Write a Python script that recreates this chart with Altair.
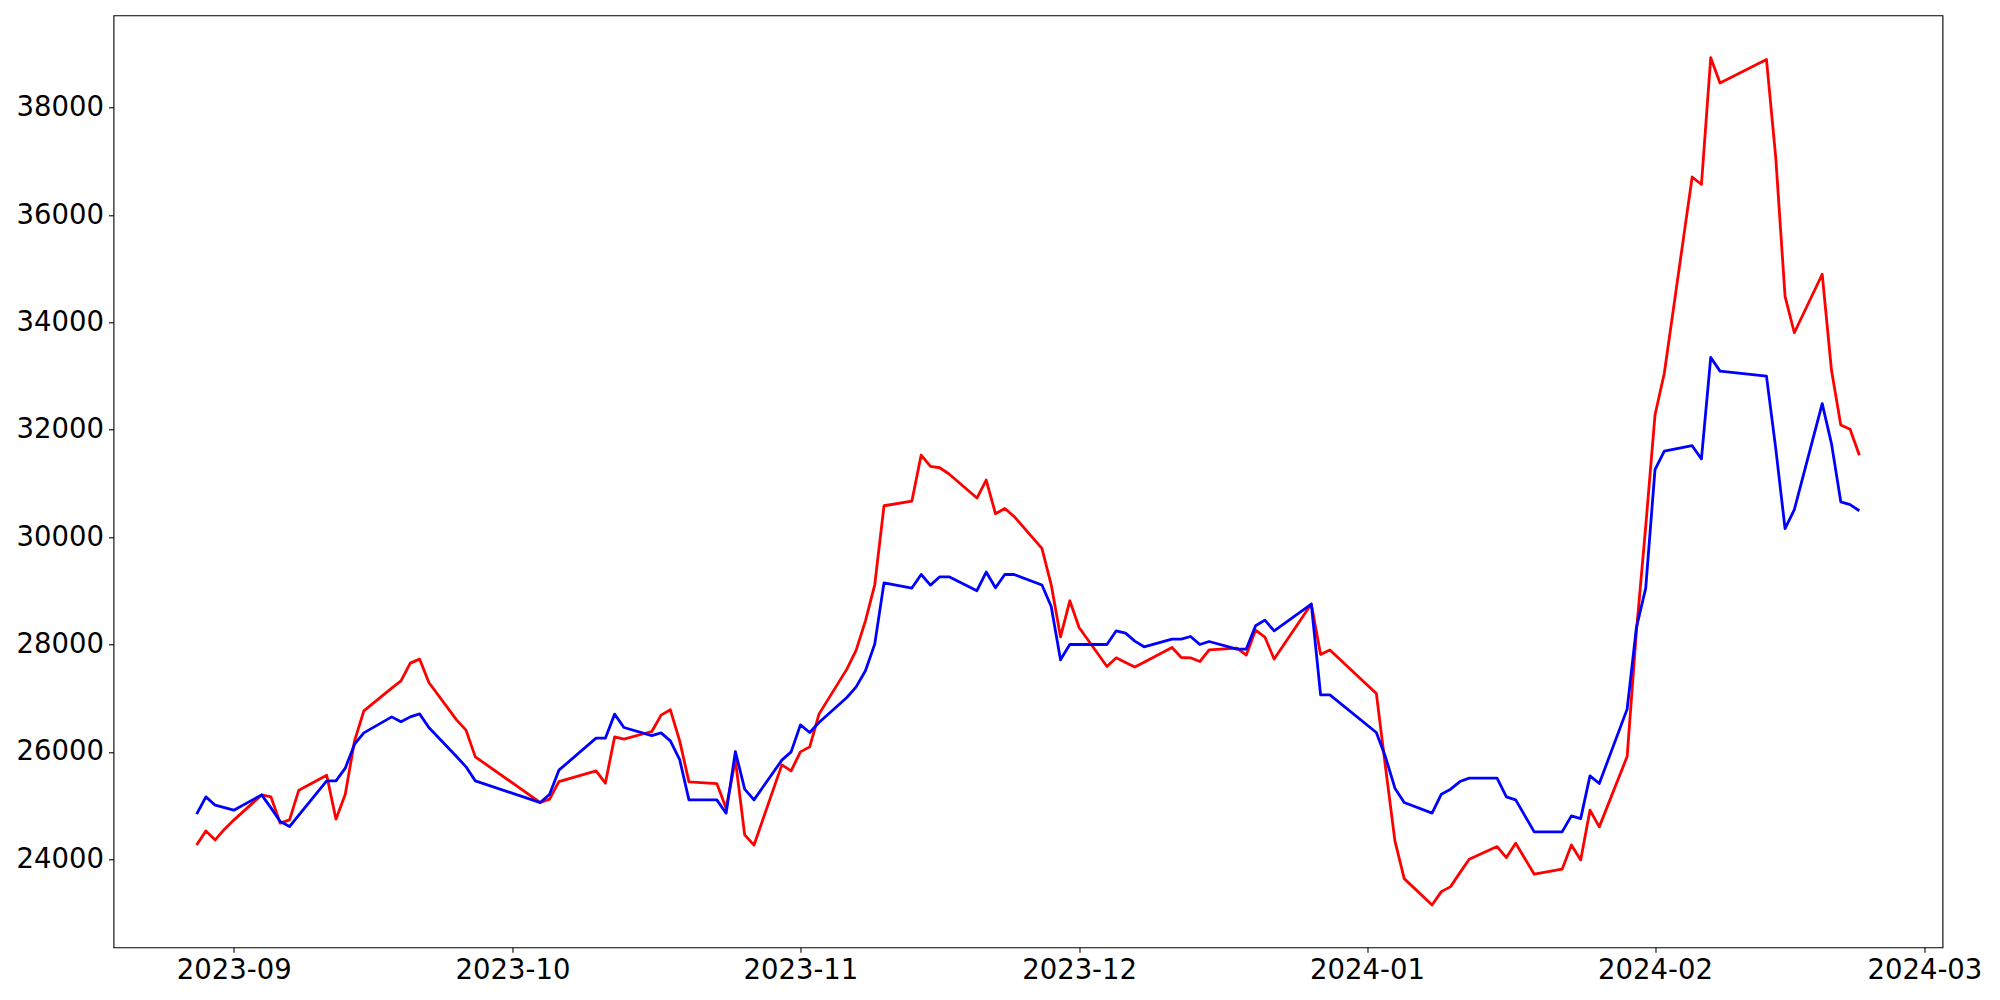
import altair as alt
import pandas as pd

dates = [
    "2023-08-28", "2023-08-29", "2023-08-30", "2023-08-31", "2023-09-01",
    "2023-09-04", "2023-09-05", "2023-09-06", "2023-09-07", "2023-09-08",
    "2023-09-11", "2023-09-12", "2023-09-13", "2023-09-14", "2023-09-15",
    "2023-09-18", "2023-09-19", "2023-09-20", "2023-09-21", "2023-09-22",
    "2023-09-25", "2023-09-26", "2023-09-27",
    "2023-10-04", "2023-10-05", "2023-10-06",
    "2023-10-10", "2023-10-11", "2023-10-12", "2023-10-13",
    "2023-10-16", "2023-10-17", "2023-10-18", "2023-10-19", "2023-10-20",
    "2023-10-23", "2023-10-24", "2023-10-25", "2023-10-26", "2023-10-27",
    "2023-10-30", "2023-10-31", "2023-11-01", "2023-11-02", "2023-11-03",
    "2023-11-06", "2023-11-07", "2023-11-08", "2023-11-09", "2023-11-10",
    "2023-11-13", "2023-11-14", "2023-11-15", "2023-11-16", "2023-11-17",
    "2023-11-20", "2023-11-21", "2023-11-22", "2023-11-23", "2023-11-24",
    "2023-11-27", "2023-11-28", "2023-11-29", "2023-11-30", "2023-12-01",
    "2023-12-04", "2023-12-05", "2023-12-06", "2023-12-07", "2023-12-08",
    "2023-12-11", "2023-12-12", "2023-12-13", "2023-12-14", "2023-12-15",
    "2023-12-18", "2023-12-19", "2023-12-20", "2023-12-21", "2023-12-22",
    "2023-12-26", "2023-12-27", "2023-12-28",
    "2024-01-02", "2024-01-03", "2024-01-04", "2024-01-05",
    "2024-01-08", "2024-01-09", "2024-01-10", "2024-01-11", "2024-01-12",
    "2024-01-15", "2024-01-16", "2024-01-17", "2024-01-18", "2024-01-19",
    "2024-01-22", "2024-01-23", "2024-01-24", "2024-01-25", "2024-01-26",
    "2024-01-29", "2024-01-30", "2024-01-31", "2024-02-01", "2024-02-02",
    "2024-02-05", "2024-02-06", "2024-02-07", "2024-02-08",
    "2024-02-13", "2024-02-14", "2024-02-15", "2024-02-16",
    "2024-02-19", "2024-02-20", "2024-02-21", "2024-02-22", "2024-02-23",
]

red = [
    24268, 24529, 24361, 24561, 24730,
    25200, 25163, 24673, 24734, 25288,
    25567, 24747, 25213, 26206, 26765,
    27188, 27324, 27654, 27729, 27293,
    26592, 26406, 25908,
    25057, 25120, 25448,
    25647, 25418, 26281, 26238,
    26380, 26685, 26784, 26206, 25442,
    25411, 24950, 25850, 24455, 24263,
    25759, 25647, 26001, 26094, 26704,
    27542, 27896, 28442, 29113, 30585,
    30673, 31530, 31318, 31293, 31176,
    30729, 31064, 30436, 30535, 30386,
    29790, 29113, 28144, 28815, 28318,
    27591, 27753, 27665, 27580, 27669,
    27945, 27759, 27753, 27684, 27902,
    27934, 27803, 28269, 28139, 27729,
    28754, 27815, 27900,
    27090, 25700, 24343, 23640,
    23150, 23398, 23491, 23752, 24002,
    24237, 24032, 24300, 24011, 23722,
    23816, 24268, 23989, 24915, 24604,
    25914, 28250, 30200, 32275, 33054,
    36708, 36569, 38931, 38458,
    38898, 37068, 34485, 33807,
    34897, 33108, 32089, 32009, 31524,
]

blue = [
    24840, 25163, 25008, 24962, 24915,
    25200, 24958, 24703, 24610, 24825,
    25461, 25461, 25697, 26145, 26355,
    26653, 26560, 26653, 26709, 26454,
    25910, 25722, 25461,
    25057, 25213, 25660,
    26256, 26256, 26704, 26455,
    26305, 26355, 26206, 25858, 25107,
    25107, 24859, 26007, 25306, 25107,
    25847, 26001, 26504, 26361, 26547,
    27013, 27212, 27511, 28008, 29150,
    29052, 29305, 29107, 29262, 29262,
    29002, 29350, 29057, 29305, 29305,
    29108, 28709, 27716, 28001, 28001,
    28001, 28256, 28213, 28064, 27958,
    28101, 28101, 28150, 28001, 28057,
    27915, 27915, 28349, 28455, 28256,
    28754, 27063, 27063,
    26361, 25900, 25325, 25057,
    24859, 25213, 25306, 25448, 25511,
    25511, 25163, 25107, 24809, 24511,
    24511, 24809, 24758, 25554, 25411,
    26797, 28318, 29052, 31258, 31603,
    31703, 31457, 33347, 33093,
    33000, 31650, 30159, 30513,
    32488, 31742, 30658, 30606, 30492,
]

x_tick_months = [(2023, 9), (2023, 10), (2023, 11), (2023, 12), (2024, 1), (2024, 2), (2024, 3)]
y_ticks = [24000, 26000, 28000, 30000, 32000, 34000, 36000, 38000]

df = pd.DataFrame({
    "date": [d + "T00:00:00" for d in dates],
    "red": red,
    "blue": blue,
})

# matplotlib-like 5% margins
t = pd.to_datetime(pd.Series(dates))
span = t.max() - t.min()
t_lo = t.min() - 0.05 * span
t_hi = t.max() + 0.05 * span


def dt(ts):
    return alt.DateTime(year=int(ts.year), month=int(ts.month), date=int(ts.day),
                        hours=int(ts.hour), minutes=int(ts.minute), seconds=int(ts.second))


vmin = min(min(red), min(blue))
vmax = max(max(red), max(blue))
vr = vmax - vmin
y_lo = vmin - 0.05 * vr
y_hi = vmax + 0.05 * vr

FONT = "DejaVu Sans"
FS = 27.5

x_enc = alt.X(
    "date:T",
    title=None,
    scale=alt.Scale(domain=[dt(t_lo), dt(t_hi)]),
    axis=alt.Axis(
        values=[alt.DateTime(year=y, month=m, date=1) for y, m in x_tick_months],
        format="%Y-%m",
        labelFont=FONT, labelFontSize=FS, labelColor="black",
        tickColor="black", tickSize=5, tickWidth=1.1,
        labelPadding=4, grid=False, domain=False, labelFlush=False,
        labelOverlap=False,
    ),
)

def y_enc(field):
    return alt.Y(
        f"{field}:Q",
        title=None,
        scale=alt.Scale(domain=[y_lo, y_hi], zero=False, nice=False),
        axis=alt.Axis(
            values=y_ticks, format="d",
            labelFont=FONT, labelFontSize=FS, labelColor="black",
            tickColor="black", tickSize=5, tickWidth=1.1,
            labelPadding=5, grid=False, domain=False, labelFlush=False,
            labelOverlap=False,
        ),
    )

base = alt.Chart(df)
red_line = base.mark_line(color="#ff0000", strokeWidth=2.8, strokeJoin="round").encode(
    x=x_enc, y=y_enc("red"))
blue_line = base.mark_line(color="#0000ff", strokeWidth=2.8, strokeJoin="round").encode(
    x=x_enc, y=y_enc("blue"))

chart = alt.layer(red_line, blue_line).properties(
    width=1829,
    height=932,
    padding={"left": 105.5, "top": 7.3, "right": 40, "bottom": 45},
    autosize=alt.AutoSizeParams(type="none"),
    background="white",
).configure_view(
    stroke="black",
    strokeWidth=1.1,
)

chart.save("out.html", embed_options={"renderer": "svg", "actions": False})
